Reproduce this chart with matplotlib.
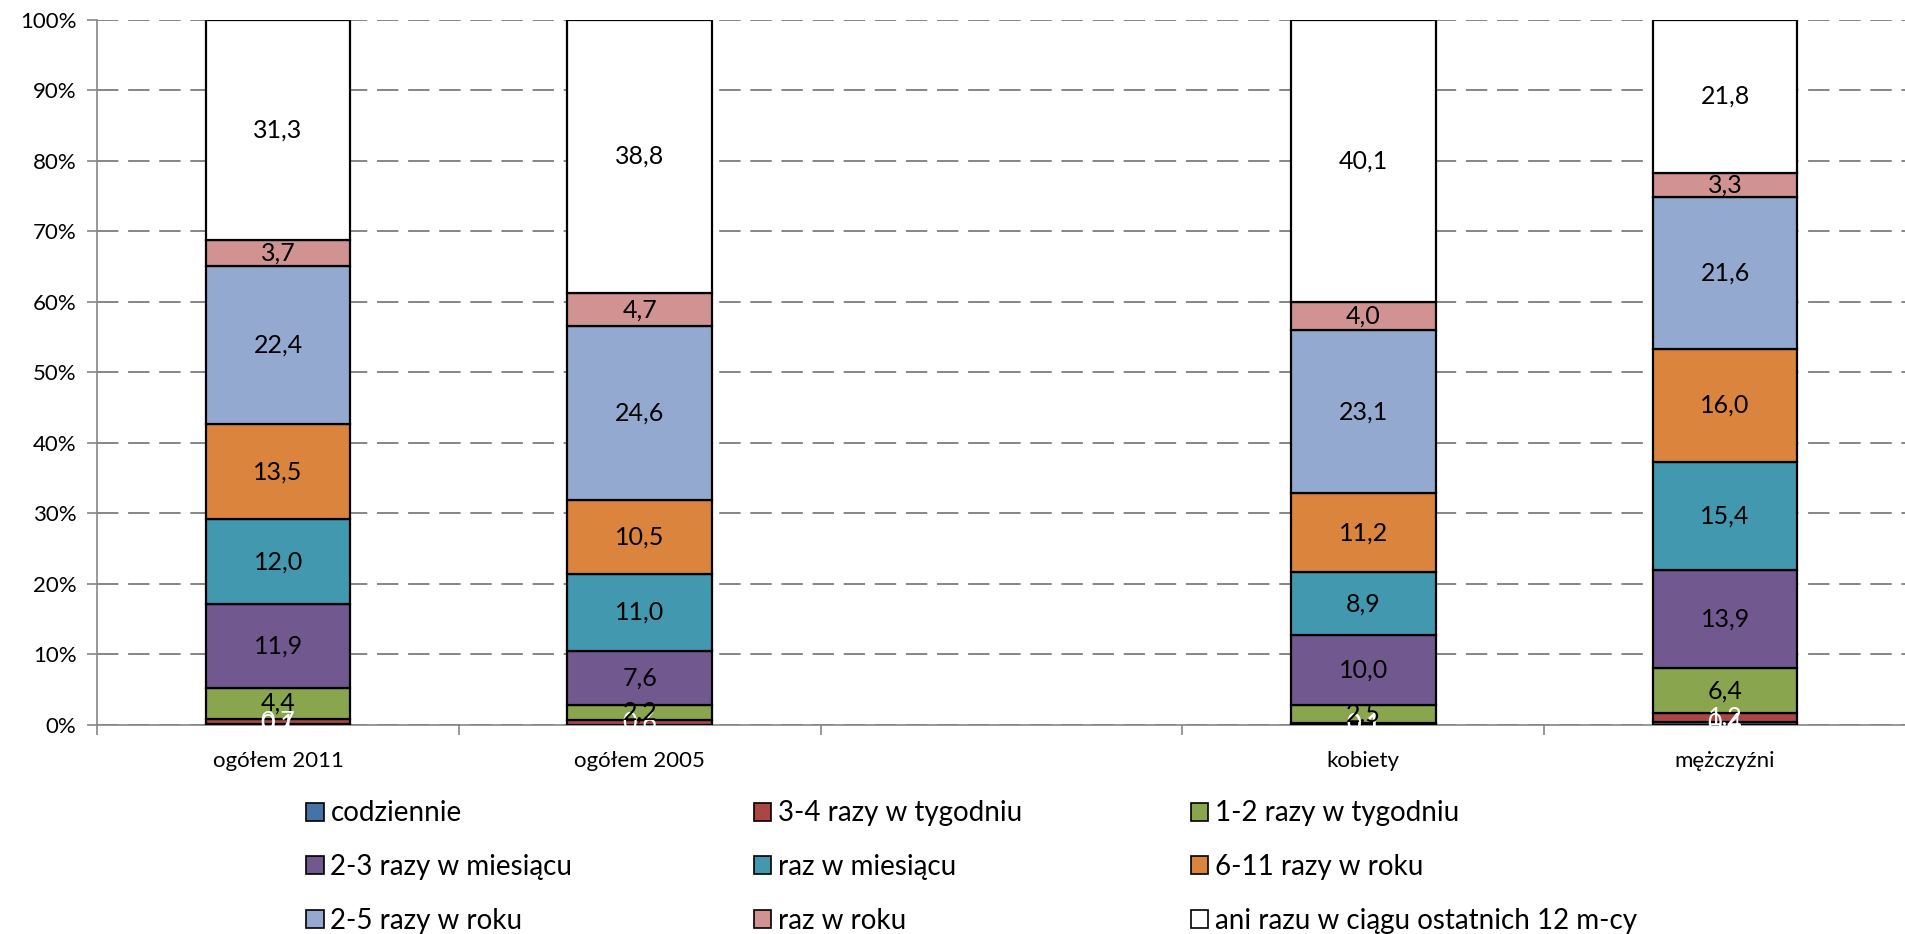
import numpy as np
import matplotlib.pyplot as plt
from matplotlib.patches import Patch

plt.rcParams['font.family'] = ['Lato', 'DejaVu Sans']

# Categories (third slot is empty in the original chart)
categories = ["ogółem 2011", "ogółem 2005", "", "kobiety", "mężczyźni"]
bar_slots = [0, 1, 3, 4]

series_names = [
    "codziennie",
    "3-4 razy w tygodniu",
    "1-2 razy w tygodniu",
    "2-3 razy w miesiącu",
    "raz w miesiącu",
    "6-11 razy w roku",
    "2-5 razy w roku",
    "raz w roku",
    "ani razu w ciągu ostatnich 12 m-cy",
]

# values per bar: ogółem 2011, ogółem 2005, kobiety, mężczyźni
codziennie = [0.1, 0.0, 0.1, 0.4]
razy_3_4_tydz = [0.7, 0.6, 0.1, 1.2]
razy_1_2_tydz = [4.4, 2.2, 2.5, 6.4]
razy_2_3_mies = [11.9, 7.6, 10.0, 13.9]
raz_mies = [12.0, 11.0, 8.9, 15.4]
razy_6_11_rok = [13.5, 10.5, 11.2, 16.0]
razy_2_5_rok = [22.4, 24.6, 23.1, 21.6]
raz_rok = [3.7, 4.7, 4.0, 3.3]
ani_razu = [31.3, 38.8, 40.1, 21.8]

series = [codziennie, razy_3_4_tydz, razy_1_2_tydz, razy_2_3_mies, raz_mies,
          razy_6_11_rok, razy_2_5_rok, raz_rok, ani_razu]

colors = ["#4572A7", "#AA4643", "#89A54E", "#71588F", "#4198AF",
          "#DB843D", "#93A9CF", "#D19392", "#FFFFFF"]
label_colors = ["white", "white"] + ["black"] * 7

fig = plt.figure(figsize=(19.06, 9.34), dpi=100)
ax = fig.add_axes([0.051, 0.2243, 0.949, 0.7547])

bottom = np.zeros(len(bar_slots))
for vals, col, lcol in zip(series, colors, label_colors):
    vals = np.array(vals)
    ax.bar(bar_slots, vals, bottom=bottom, width=0.4, color=col,
           edgecolor="black", linewidth=1.6, zorder=3)
    for x, v, b in zip(bar_slots, vals, bottom):
        if v > 0:
            ax.text(x, b + v / 2, f"{v:.1f}".replace(".", ","),
                    ha="center", va="center", fontsize=18, color=lcol,
                    zorder=4)
    bottom += vals

ax.set_xlim(-0.5, 4.5)
ax.set_ylim(0, 100)
ax.set_yticks(np.arange(0, 101, 10))
ax.set_yticklabels([f"{v}%" for v in range(0, 101, 10)], fontsize=16)
ax.set_xticks(range(len(categories)))
ax.set_xticklabels(categories, fontsize=16)
ax.tick_params(axis="x", length=0, pad=19)
ax.set_xticks(np.arange(-0.5, 4.6, 1), minor=True)
ax.tick_params(axis="x", which="minor", length=7, color="#868686", width=1.2)
ax.tick_params(axis="y", length=7, color="#868686", width=1.2, pad=8)

ax.yaxis.grid(True, color="#868686", linestyle=(0, (11, 5)), linewidth=1.4, zorder=0)
for s in ["top", "right"]:
    ax.spines[s].set_visible(False)
for s in ["left", "bottom"]:
    ax.spines[s].set_color("#868686")
    ax.spines[s].set_linewidth(1.2)

# legend: three columns placed like in the original
handles = [Patch(facecolor=c, edgecolor="black", linewidth=1.2) for c in colors]
col_x = [0.1607, 0.3956, 0.6250]
for j, x0 in enumerate(col_x):
    idx = [j, j + 3, j + 6]
    fig.legend([handles[i] for i in idx], [series_names[i] for i in idx],
               loc="upper left", bbox_to_anchor=(x0, 0.143),
               frameon=False, fontsize=20, handlelength=0.62,
               handleheight=0.62, handletextpad=0.25, labelspacing=1.0,
               borderpad=0, borderaxespad=0)

fig.savefig("out.png", dpi=100)
